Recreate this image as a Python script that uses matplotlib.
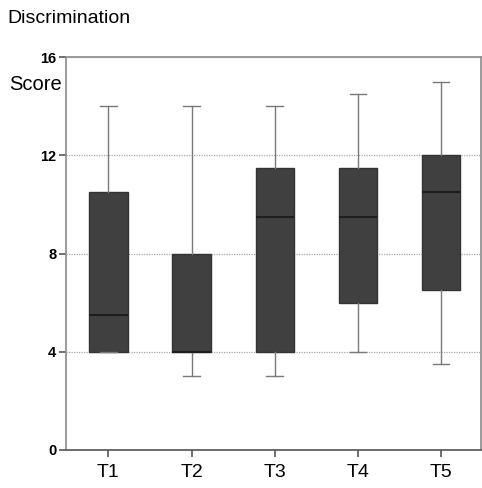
import matplotlib.pyplot as plt

plt.rcParams['font.family'] = ['Liberation Sans', 'DejaVu Sans']

groups = ['T1', 'T2', 'T3', 'T4', 'T5']
whislo = [4, 3, 3, 4, 3.5]
q1 = [4, 4, 4, 6, 6.5]
med = [5.5, 4, 9.5, 9.5, 10.5]
q3 = [10.5, 8, 11.5, 11.5, 12]
whishi = [14, 14, 14, 14.5, 15]

stats = [dict(label=g, whislo=a, q1=b, med=c, q3=d, whishi=e)
         for g, a, b, c, d, e in zip(groups, whislo, q1, med, q3, whishi)]

fig = plt.figure(figsize=(4.82, 4.88), dpi=100)
ax = fig.add_axes([0.137, 0.078, 0.861, 0.805])

ax.bxp(stats, positions=range(1, 6), widths=0.46, capwidths=0.2,
       showfliers=False, patch_artist=True,
       boxprops=dict(facecolor='#404040', edgecolor='#333333', linewidth=1),
       medianprops=dict(color='#1e1e1e', linewidth=1.5),
       whiskerprops=dict(color='#7a7a7a', linewidth=1),
       capprops=dict(color='#7a7a7a', linewidth=1))

ax.set_xlim(0.49, 5.48)
ax.set_ylim(0, 16)
ax.set_yticks([0, 4, 8, 12, 16])
ax.set_axisbelow(True)
ax.yaxis.grid(True, linestyle=(0, (1, 1)), color='#a8a8a8', linewidth=0.9)

for s in ax.spines.values():
    s.set_color('#8a8a8a')
    s.set_linewidth(1.2)
ax.spines['bottom'].set_color('#555555')

ax.tick_params(axis='y', length=5, width=1.2, color='#555555', labelsize=10.5, pad=2)
ax.tick_params(axis='x', length=5, width=1.2, color='#555555', labelsize=14, pad=5)
for lab in ax.get_yticklabels():
    lab.set_fontweight('bold')

fig.text(0.015, 0.962, 'Discrimination', fontsize=14, ha='left', va='center')
fig.text(0.018, 0.826, 'Score', fontsize=14.5, ha='left', va='center')

fig.savefig('out.png', dpi=100)
